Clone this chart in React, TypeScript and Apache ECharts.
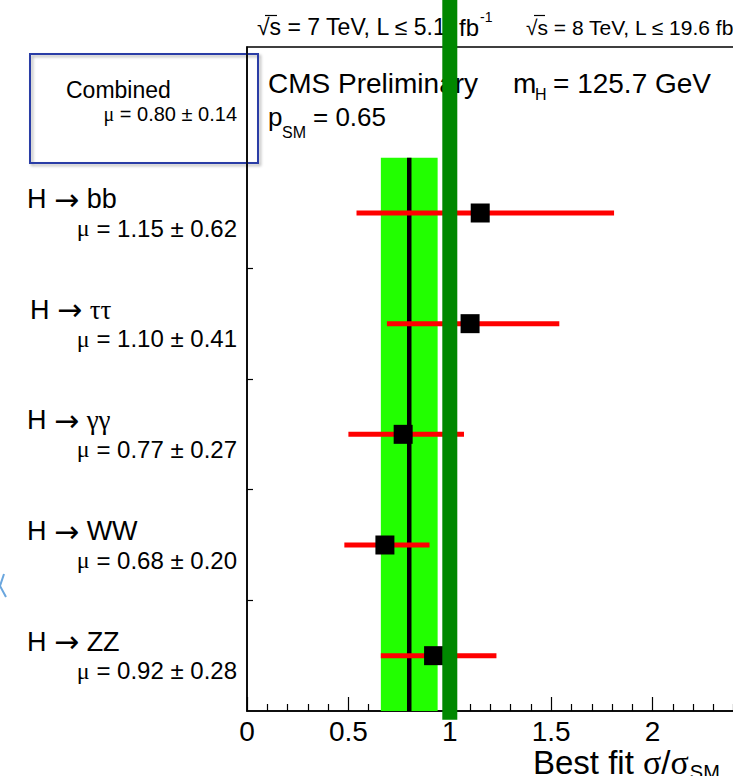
import React, { useEffect, useRef } from 'react';
import * as echarts from 'echarts';

// ---------- data ----------
const channelDecays = ['bb', 'ττ', 'γγ', 'WW', 'ZZ'];
const rowCenters = [4.5, 3.5, 2.5, 1.5, 0.5];
const muValues = [1.15, 1.1, 0.77, 0.68, 0.92];
const muErrors = [0.62, 0.41, 0.27, 0.2, 0.28];
const intervalLow = [0.54, 0.69, 0.5, 0.48, 0.66];
const intervalHigh = [1.81, 1.54, 1.07, 0.9, 1.23];
const combinedMu = 0.8;
const combinedErr = 0.14;
const smValue = 1;
const pSM = 0.65;
const mH = 125.7;
const xTickLabels = ['0', '0.5', '1', '1.5', '2', '2.5'];
const energyLabels = ['√s = 7 TeV, L ≤ 5.1', '√s = 8 TeV, L ≤ 19.6'];
const lumiUnit = 'fb';

const SANS = "'Liberation Sans', Arial, Helvetica, sans-serif";
const SERIF = "'Liberation Serif', 'Times New Roman', serif";
const ARROW = "'DejaVu Sans', sans-serif";

const isGreek = (s: string) => /[\u0370-\u03ff]/.test(s);
const fmt2 = (v: number) => v.toFixed(2);

const measure = (text: string, size: number, family = 'Liberation Sans') => {
  const ctx = document.createElement('canvas').getContext('2d');
  if (!ctx) return text.length * size * 0.5;
  ctx.font = `${size}px '${family}'`;
  return ctx.measureText(text).width;
};

export default function App() {
  const ref = useRef<HTMLDivElement>(null);

  useEffect(() => {
    if (!ref.current) return;
    const chart = echarts.init(ref.current, null, { renderer: 'svg' });
    const nRows = channelDecays.length;

    const option: any = {
      animation: false,
      grid: {
        left: 247,
        right: -21,
        top: 47,
        bottom: 65,
        show: true,
        borderColor: '#000',
        borderWidth: 1.5,
        backgroundColor: 'transparent',
        containLabel: false,
        outerBoundsMode: 'none',
      },
      xAxis: {
        type: 'value',
        min: 0,
        max: 2.5,
        interval: 0.5,
        axisLine: { show: true, lineStyle: { color: '#000', width: 1.5 } },
        axisTick: { show: true, inside: true, length: 14, lineStyle: { color: '#000', width: 1.2 } },
        minorTick: { show: true, splitNumber: 5, length: 7, lineStyle: { color: '#000', width: 1.2 } },
        splitLine: { show: false },
        minorSplitLine: { show: false },
        axisLabel: {
          show: true,
          fontSize: 28,
          lineHeight: 26,
          fontFamily: SANS,
          color: '#000',
          margin: 7,
          hideOverlap: false,
          formatter: (v: number) => {
            const i = Math.round(v / 0.5);
            return Math.abs(v - i * 0.5) < 1e-6 ? xTickLabels[i] ?? '' : '';
          },
        },
      },
      yAxis: {
        type: 'value',
        min: 0,
        max: 6,
        interval: 1,
        axisLine: { show: true, lineStyle: { color: '#000', width: 1.5 } },
        axisTick: {
          show: true,
          inside: true,
          length: 6,
          customValues: [1, 2, 3, 4],
          lineStyle: { color: '#000', width: 1.2 },
        },
        axisLabel: { show: false },
        splitLine: { show: false },
      },
      series: [
        {
          type: 'custom',
          name: 'combinedBand',
          z: 1,
          silent: true,
          encode: { x: [0, 1], y: [2, 3] },
          data: [[combinedMu - combinedErr, combinedMu + combinedErr, 0, nRows]],
          renderItem: (_p: any, api: any) => {
            const a = api.coord([api.value(0), api.value(2)]);
            const b = api.coord([api.value(1), api.value(3)]);
            return {
              type: 'rect',
              shape: { x: a[0], y: b[1], width: b[0] - a[0], height: a[1] - b[1] },
              style: { fill: '#22ff00' },
            };
          },
        },
        {
          type: 'line',
          name: 'combinedMu',
          z: 2,
          silent: true,
          symbol: 'none',
          data: [
            [combinedMu, 0],
            [combinedMu, nRows],
          ],
          lineStyle: { color: '#000', width: 4.5 },
        },
        {
          type: 'custom',
          name: 'intervals',
          z: 3,
          silent: true,
          encode: { x: [0, 1], y: 2 },
          data: rowCenters.map((y, i) => [intervalLow[i], intervalHigh[i], y]),
          renderItem: (_p: any, api: any) => {
            const a = api.coord([api.value(0), api.value(2)]);
            const b = api.coord([api.value(1), api.value(2)]);
            return {
              type: 'line',
              shape: { x1: a[0], y1: a[1], x2: b[0], y2: b[1] },
              style: { stroke: '#ff0000', lineWidth: 5 },
            };
          },
        },
        {
          type: 'scatter',
          name: 'bestFit',
          z: 4,
          silent: true,
          symbol: 'rect',
          symbolSize: 19,
          itemStyle: { color: '#000', opacity: 1 },
          data: rowCenters.map((y, i) => [muValues[i], y]),
        },
        {
          type: 'line',
          name: 'SM',
          z: 6,
          silent: true,
          clip: false,
          symbol: 'none',
          data: [
            [smValue, -0.08],
            [smValue, 6.45],
          ],
          lineStyle: { color: '#008800', width: 15 },
        },
      ],
    };
    chart.setOption(option);

    const py = (v: number) => chart.convertToPixel({ yAxisIndex: 0 } as any, v) as number;

    const txt = (x: number, y: number, text: string, fontSize: number, extra: any = {}) => ({
      type: 'text',
      x,
      y,
      z: 0,
      silent: true,
      style: {
        text,
        fontSize,
        fontFamily: SANS,
        fill: '#000',
        align: 'left',
        verticalAlign: 'middle',
        ...extra,
      },
    });

    const graphics: any[] = [];
    // energy / lumi header
    const overline = (x: number, w: number) => ({
      type: 'line',
      silent: true,
      shape: { x1: x + 8, y1: 15.5, x2: x + 8 + w, y2: 15.5 },
      style: { stroke: '#000', lineWidth: 1.2 },
    });
    // 7 TeV part
    graphics.push(txt(257, 27, energyLabels[0], 23));
    graphics.push(overline(257, 12));
    graphics.push(txt(459, 27, lumiUnit, 24));
    graphics.push(txt(459 + measure(lumiUnit, 24) + 1, 17, '-1', 14));
    // 8 TeV part
    const size2 = 21;
    const t2 = `${energyLabels[1]} ${lumiUnit}`;
    graphics.push(txt(526, 27, t2, size2));
    graphics.push(overline(526, 11));
    graphics.push(txt(526 + measure(t2, size2) + 1, 17, '-1', 13));

    // CMS header
    graphics.push(txt(268, 83, 'CMS Preliminary', 28));
    graphics.push(txt(513, 83, 'm', 28));
    graphics.push(txt(535, 94, 'H', 16));
    graphics.push(txt(553, 83, `= ${mH} GeV`, 28));
    graphics.push(txt(268, 117, 'p', 26));
    graphics.push(txt(282, 132, 'SM', 16));
    graphics.push(txt(313, 117, `= ${pSM}`, 26));

    // combined box
    graphics.push({
      type: 'rect',
      silent: true,
      shape: { x: 30, y: 54, width: 228, height: 109 },
      style: {
        fill: 'none',
        stroke: '#2a3ca6',
        lineWidth: 2,
        shadowBlur: 3,
        shadowColor: 'rgba(0,0,0,0.3)',
        shadowOffsetX: 2,
        shadowOffsetY: 2,
      },
    });
    graphics.push(txt(66, 90, 'Combined', 23));
    graphics.push(
      txt(237, 114, `{g|μ} = ${fmt2(combinedMu)} ± ${fmt2(combinedErr)}`, 20, {
        align: 'right',
        rich: { g: { fontFamily: SERIF, fontSize: 20 } },
      })
    );

    // channel labels
    channelDecays.forEach((d, i) => {
      const yc = py(rowCenters[i]);
      const decay = isGreek(d) ? `{g|${d}}` : d;
      graphics.push(
        txt(d === 'ττ' ? 30 : 27, yc - 14, `H {r|→} ${decay}`, 27, {
          rich: {
            g: { fontFamily: SERIF, fontSize: 27 },
            r: { fontFamily: ARROW, fontSize: 30 },
          },
        })
      );
      graphics.push(
        txt(237, yc + 15, `{g|μ} = ${fmt2(muValues[i])} ± ${fmt2(muErrors[i])}`, 24, {
          align: 'right',
          rich: { g: { fontFamily: SERIF, fontSize: 24 } },
        })
      );
    });

    // axis title
    graphics.push(
      txt(533, 762, 'Best fit {g|σ}/{g|σ}', 33, {
        lineHeight: 28,
        rich: { g: { fontFamily: SERIF, fontSize: 34, lineHeight: 28 } },
      })
    );
    graphics.push(
      txt(533 + measure('Best fit ', 33) + 2 * measure('σ', 34, 'Liberation Serif') + measure('/', 33) + 1, 772, 'SM', 20)
    );

    // small blue mark at the left border
    graphics.push({
      type: 'polyline',
      silent: true,
      shape: { points: [[4, 574], [0, 586], [6, 597]] },
      style: { stroke: '#6aa6de', lineWidth: 2, fill: 'none' },
    });

    chart.setOption({ graphic: graphics });

    return () => chart.dispose();
  }, []);

  return <div ref={ref} style={{ position: 'absolute', left: 0, top: 0, width: 733, height: 776 }} />;
}
